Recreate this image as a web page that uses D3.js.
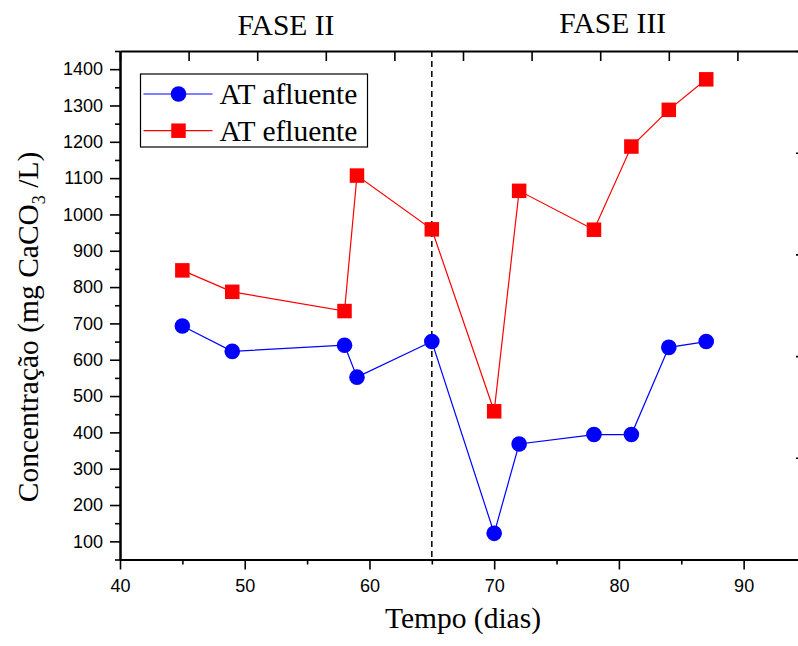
<!DOCTYPE html>
<html>
<head>
<meta charset="utf-8">
<script src="https://cdn.jsdelivr.net/npm/d3@7"></script>
<style>
  body { margin: 0; background: #fff; }
  svg { display: block; }
</style>
</head>
<body>
<svg id="chart"></svg>
<script>
// Section for Data
var days = [45, 49, 58, 59, 65, 70, 72, 78, 81, 84, 87];
var afluente = [693, 623, 640, 552, 650, 122, 368, 394, 394, 634, 650];
var efluente = [846, 787, 734, 1107, 959, 458, 1065, 958, 1187, 1288, 1372];
var seriesNames = ["AT afluente", "AT efluente"];
var xTicks = [40, 50, 60, 70, 80, 90];
var xMinor = [45, 55, 65, 75, 85, 95];
var yTicks = [100, 200, 300, 400, 500, 600, 700, 800, 900, 1000, 1100, 1200, 1300, 1400];
var yMinor = [50, 150, 250, 350, 450, 550, 650, 750, 850, 950, 1050, 1150, 1250, 1350, 1450];
var phaseNames = ["FASE II", "FASE III"];
var phaseChange = 65;

// Section for chart dimensions
var svgWidth = 798, svgHeight = 646;
var plotLeft = 120, plotRight = 806, plotTop = 51, plotBottom = 559.5;
var serif = "'Liberation Serif', 'Times New Roman', serif";
var sans = "'Liberation Sans', Arial, sans-serif";

var x = d3.scaleLinear().domain([40, 95]).range([plotLeft, plotRight]);
var y = d3.scaleLinear().domain([50, 1450]).range([plotBottom, plotTop]);

var svg = d3.select("#chart")
    .attr("width", svgWidth)
    .attr("height", svgHeight);

// dashed line between the phases
svg.append("line")
    .attr("x1", x(phaseChange)).attr("x2", x(phaseChange))
    .attr("y1", plotTop).attr("y2", plotBottom)
    .attr("stroke", "#000")
    .attr("stroke-width", 1.5)
    .attr("stroke-dasharray", "6,4");

// helper to style axes
function styleAxis(g, width) {
    g.select(".domain").attr("stroke", "#000").attr("stroke-width", width);
    g.selectAll(".tick line").attr("stroke", "#000").attr("stroke-width", 1.6);
    g.selectAll("text").attr("font-family", sans).attr("font-size", 18).attr("fill", "#000");
}

// bottom axis
svg.append("g")
    .attr("transform", "translate(0," + plotBottom + ")")
    .call(d3.axisBottom(x).tickValues(xMinor).tickSize(5).tickSizeOuter(0).tickFormat(""))
    .call(function (g) { styleAxis(g, 2); });
svg.append("g")
    .attr("transform", "translate(0," + plotBottom + ")")
    .call(d3.axisBottom(x).tickValues(xTicks).tickSize(10).tickSizeOuter(0).tickPadding(10))
    .call(function (g) { styleAxis(g, 2); });

// left axis
svg.append("g")
    .attr("transform", "translate(" + plotLeft + ",0)")
    .call(d3.axisLeft(y).tickValues(yMinor).tickSize(5).tickSizeOuter(0).tickFormat(""))
    .call(function (g) { styleAxis(g, 2); });
svg.append("g")
    .attr("transform", "translate(" + plotLeft + ",0)")
    .call(d3.axisLeft(y).tickValues(yTicks).tickSize(10).tickSizeOuter(0).tickPadding(7).tickFormat(d3.format("d")))
    .call(function (g) { styleAxis(g, 2); });

// top axis (inward ticks, 10 equal parts)
var topScale = d3.scaleLinear().domain([0, 10]).range([plotLeft, plotRight]);
svg.append("g")
    .attr("transform", "translate(0," + plotTop + ")")
    .call(d3.axisBottom(topScale).ticks(10).tickSize(10).tickSizeOuter(0).tickFormat(""))
    .call(function (g) { styleAxis(g, 2); });

// right axis (inward ticks, 5 equal parts)
var rightScale = d3.scaleLinear().domain([0, 5]).range([plotBottom, plotTop]);
svg.append("g")
    .attr("transform", "translate(" + plotRight + ",0)")
    .call(d3.axisLeft(rightScale).ticks(5).tickSize(10).tickSizeOuter(0).tickFormat(""))
    .call(function (g) { styleAxis(g, 2); });

// lines
var line = d3.line()
    .x(function (d) { return x(d[0]); })
    .y(function (d) { return y(d[1]); });

var afData = days.map(function (d, i) { return [d, afluente[i]]; });
var efData = days.map(function (d, i) { return [d, efluente[i]]; });

svg.append("path").datum(efData)
    .attr("d", line).attr("fill", "none")
    .attr("stroke", "#ff0000").attr("stroke-width", 1.2);
svg.append("path").datum(afData)
    .attr("d", line).attr("fill", "none")
    .attr("stroke", "#0000ff").attr("stroke-width", 1.2);

var sq = 14.5, r = 7.8;

svg.selectAll("rect.ef")
    .data(efData)
    .enter().append("rect")
    .attr("class", "ef")
    .attr("x", function (d) { return x(d[0]) - sq / 2; })
    .attr("y", function (d) { return y(d[1]) - sq / 2; })
    .attr("width", sq).attr("height", sq)
    .attr("fill", "#ff0000");

svg.selectAll("circle.af")
    .data(afData)
    .enter().append("circle")
    .attr("class", "af")
    .attr("cx", function (d) { return x(d[0]); })
    .attr("cy", function (d) { return y(d[1]); })
    .attr("r", r)
    .attr("fill", "#0000ff");

// legend
var legend = svg.append("g").attr("transform", "translate(140.5,74)");
legend.append("rect")
    .attr("width", 227).attr("height", 73)
    .attr("fill", "#fff").attr("stroke", "#000").attr("stroke-width", 1.2);

var colors = ["#0000ff", "#ff0000"];
seriesNames.forEach(function (name, i) {
    var cy = 20 + i * 36.7;
    legend.append("line")
        .attr("x1", 3).attr("x2", 72)
        .attr("y1", cy).attr("y2", cy)
        .attr("stroke", colors[i]).attr("stroke-width", 1.2);
    if (i === 0) {
        legend.append("circle").attr("cx", 38).attr("cy", cy).attr("r", r).attr("fill", colors[i]);
    } else {
        legend.append("rect").attr("x", 38 - sq / 2).attr("y", cy - sq / 2)
            .attr("width", sq).attr("height", sq).attr("fill", colors[i]);
    }
    legend.append("text")
        .attr("x", 79).attr("y", cy + 10.3)
        .attr("font-family", serif).attr("font-size", 29.5)
        .text(name);
});

// phase labels
var phaseX = [53.3, 79.5];
var phaseBase = [35, 32.5];
phaseNames.forEach(function (p, i) {
    svg.append("text")
        .attr("x", x(phaseX[i])).attr("y", phaseBase[i])
        .attr("text-anchor", "middle")
        .attr("font-family", serif).attr("font-size", 29.5)
        .text(p);
});

// axis titles
svg.append("text")
    .attr("x", (plotLeft + plotRight) / 2).attr("y", 628)
    .attr("text-anchor", "middle")
    .attr("font-family", serif).attr("font-size", 29.5)
    .text("Tempo (dias)");

var yt = svg.append("text")
    .attr("transform", "translate(38," + 327 + ") rotate(-90)")
    .attr("text-anchor", "middle")
    .attr("font-family", serif).attr("font-size", 29.5);
yt.append("tspan").text("Concentração (mg CaCO");
yt.append("tspan").attr("font-size", 18).attr("dy", 7).text("3");
yt.append("tspan").attr("dy", -7).text(" /L)");
</script>
</body>
</html>
